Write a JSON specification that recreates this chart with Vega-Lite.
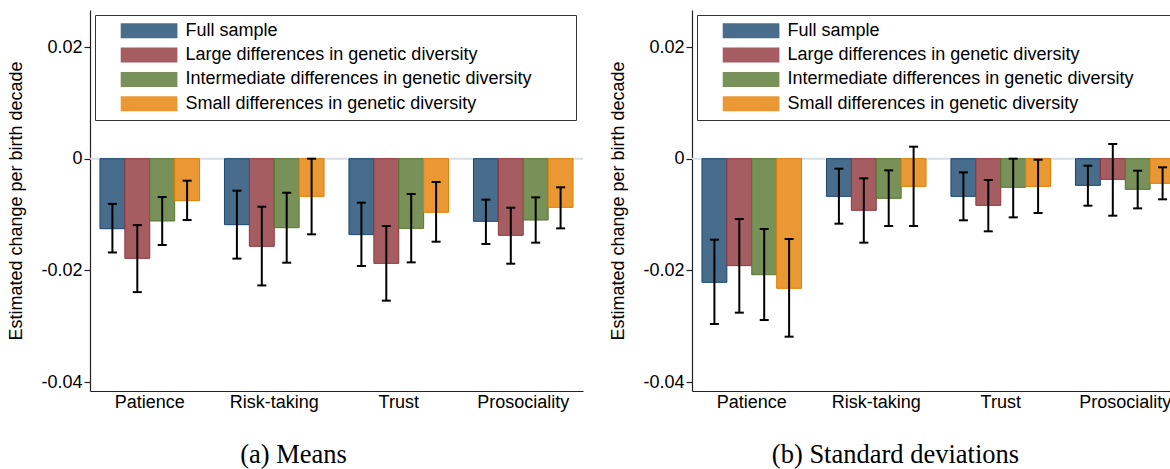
{
  "$schema": "https://vega.github.io/schema/vega-lite/v6.json",
  "padding": {"left": 7, "top": 10, "right": 0, "bottom": 0},
  "spacing": 25,
  "data": {
    "values": [
      {"panel": "Means", "trait": "Patience", "group": "Full sample", "est": -0.01254, "lo": -0.0168, "hi": -0.0081},
      {"panel": "Means", "trait": "Patience", "group": "Large differences in genetic diversity", "est": -0.01785, "lo": -0.0239, "hi": -0.0119},
      {"panel": "Means", "trait": "Patience", "group": "Intermediate differences in genetic diversity", "est": -0.01116, "lo": -0.01546, "hi": -0.00687},
      {"panel": "Means", "trait": "Patience", "group": "Small differences in genetic diversity", "est": -0.00752, "lo": -0.01099, "hi": -0.00394},
      {"panel": "Means", "trait": "Risk-taking", "group": "Full sample", "est": -0.01182, "lo": -0.0179, "hi": -0.00573},
      {"panel": "Means", "trait": "Risk-taking", "group": "Large differences in genetic diversity", "est": -0.0157, "lo": -0.0227, "hi": -0.0086},
      {"panel": "Means", "trait": "Risk-taking", "group": "Intermediate differences in genetic diversity", "est": -0.01236, "lo": -0.01863, "hi": -0.0061},
      {"panel": "Means", "trait": "Risk-taking", "group": "Small differences in genetic diversity", "est": -0.00675, "lo": -0.01355, "hi": 0.0},
      {"panel": "Means", "trait": "Trust", "group": "Full sample", "est": -0.0136, "lo": -0.01922, "hi": -0.00788},
      {"panel": "Means", "trait": "Trust", "group": "Large differences in genetic diversity", "est": -0.01875, "lo": -0.02543, "hi": -0.01206},
      {"panel": "Means", "trait": "Trust", "group": "Intermediate differences in genetic diversity", "est": -0.01248, "lo": -0.01857, "hi": -0.00633},
      {"panel": "Means", "trait": "Trust", "group": "Small differences in genetic diversity", "est": -0.00961, "lo": -0.01487, "hi": -0.00418},
      {"panel": "Means", "trait": "Prosociality", "group": "Full sample", "est": -0.01122, "lo": -0.01528, "hi": -0.00734},
      {"panel": "Means", "trait": "Prosociality", "group": "Large differences in genetic diversity", "est": -0.01373, "lo": -0.01881, "hi": -0.00878},
      {"panel": "Means", "trait": "Prosociality", "group": "Intermediate differences in genetic diversity", "est": -0.01099, "lo": -0.01504, "hi": -0.00693},
      {"panel": "Means", "trait": "Prosociality", "group": "Small differences in genetic diversity", "est": -0.00872, "lo": -0.01248, "hi": -0.00513},
      {"panel": "SD", "trait": "Patience", "group": "Full sample", "est": -0.02215, "lo": -0.02961, "hi": -0.01451},
      {"panel": "SD", "trait": "Patience", "group": "Large differences in genetic diversity", "est": -0.01916, "lo": -0.02758, "hi": -0.01081},
      {"panel": "SD", "trait": "Patience", "group": "Intermediate differences in genetic diversity", "est": -0.02078, "lo": -0.0289, "hi": -0.0126},
      {"panel": "SD", "trait": "Patience", "group": "Small differences in genetic diversity", "est": -0.02322, "lo": -0.03188, "hi": -0.01439},
      {"panel": "SD", "trait": "Risk-taking", "group": "Full sample", "est": -0.00675, "lo": -0.01164, "hi": -0.00179},
      {"panel": "SD", "trait": "Risk-taking", "group": "Large differences in genetic diversity", "est": -0.00925, "lo": -0.01504, "hi": -0.00352},
      {"panel": "SD", "trait": "Risk-taking", "group": "Intermediate differences in genetic diversity", "est": -0.0071, "lo": -0.01206, "hi": -0.00209},
      {"panel": "SD", "trait": "Risk-taking", "group": "Small differences in genetic diversity", "est": -0.00496, "lo": -0.01206, "hi": 0.00215},
      {"panel": "SD", "trait": "Trust", "group": "Full sample", "est": -0.00675, "lo": -0.01104, "hi": -0.00245},
      {"panel": "SD", "trait": "Trust", "group": "Large differences in genetic diversity", "est": -0.00836, "lo": -0.01301, "hi": -0.00382},
      {"panel": "SD", "trait": "Trust", "group": "Intermediate differences in genetic diversity", "est": -0.00513, "lo": -0.01051, "hi": 0.0},
      {"panel": "SD", "trait": "Trust", "group": "Small differences in genetic diversity", "est": -0.00496, "lo": -0.00973, "hi": -0.00018},
      {"panel": "SD", "trait": "Prosociality", "group": "Full sample", "est": -0.00478, "lo": -0.00842, "hi": -0.00125},
      {"panel": "SD", "trait": "Prosociality", "group": "Large differences in genetic diversity", "est": -0.0037, "lo": -0.01021, "hi": 0.00263},
      {"panel": "SD", "trait": "Prosociality", "group": "Intermediate differences in genetic diversity", "est": -0.00549, "lo": -0.0089, "hi": -0.00215},
      {"panel": "SD", "trait": "Prosociality", "group": "Small differences in genetic diversity", "est": -0.00442, "lo": -0.00728, "hi": -0.00155}
    ]
  },
  "hconcat": [
    {
      "width": 493,
      "height": 381,
      "title": {"text": "(a) Means", "orient": "bottom", "anchor": "middle", "frame": "group", "dx": -43, "offset": 31},
      "transform": [{"filter": "datum.panel === 'Means'"}],
      "layer": [
        {
          "transform": [{"filter": "datum.trait === 'Patience' && datum.group === 'Full sample'"}],
          "mark": {"type": "rule", "color": "#d6dfe6", "strokeWidth": 2},
          "encoding": {"y": {"datum": 0, "scale": {"domain": [-0.04161, 0.02663], "nice": false, "zero": false}}}
        },
        {
          "encoding": {
            "x": {"field": "trait", "type": "nominal", "sort": ["Patience", "Risk-taking", "Trust", "Prosociality"], "scale": {"paddingInner": 0.2, "paddingOuter": 0.08}, "axis": {"title": null, "ticks": false, "labelAngle": 0, "labelPadding": 2}},
            "xOffset": {"field": "group", "type": "nominal", "sort": ["Full sample", "Large differences in genetic diversity", "Intermediate differences in genetic diversity", "Small differences in genetic diversity"], "scale": {"paddingInner": 0, "paddingOuter": 0}}
          },
          "layer": [
            {
              "mark": {"type": "bar", "strokeWidth": 1},
              "encoding": {
                "y": {"field": "est", "type": "quantitative", "title": "Estimated change per birth decade", "scale": {"domain": [-0.04161, 0.02663], "nice": false, "zero": false}, "axis": {"values": [-0.04, -0.02, 0, 0.02], "labelExpr": "datum.value == 0 ? '0' : (datum.value < 0 ? '-' : '') + format(abs(datum.value), '.2f')"}},
                "color": {"field": "group", "type": "nominal", "sort": ["Full sample", "Large differences in genetic diversity", "Intermediate differences in genetic diversity", "Small differences in genetic diversity"], "scale": {"range": ["#486c8c", "#a65d62", "#779159", "#e99833"]}, "legend": {"title": "\u00a0", "titleOrient": "right", "titlePadding": 37, "titleFontSize": 1}},
                "stroke": {"field": "group", "type": "nominal", "sort": ["Full sample", "Large differences in genetic diversity", "Intermediate differences in genetic diversity", "Small differences in genetic diversity"], "scale": {"range": ["#1a476f", "#90353b", "#55752f", "#e37e00"]}, "legend": null}
              }
            },
            {
              "mark": {"type": "rule", "strokeWidth": 2, "color": "#000000"},
              "encoding": {
                "y": {"field": "lo", "type": "quantitative", "title": "Estimated change per birth decade", "scale": {"domain": [-0.04161, 0.02663], "nice": false, "zero": false}},
                "y2": {"field": "hi"}
              }
            },
            {
              "mark": {"type": "tick", "thickness": 2, "size": 9, "color": "#000000", "opacity": 1},
              "encoding": {"y": {"field": "lo", "type": "quantitative", "title": "Estimated change per birth decade", "scale": {"domain": [-0.04161, 0.02663], "nice": false, "zero": false}}}
            },
            {
              "mark": {"type": "tick", "thickness": 2, "size": 9, "color": "#000000", "opacity": 1},
              "encoding": {"y": {"field": "hi", "type": "quantitative", "title": "Estimated change per birth decade", "scale": {"domain": [-0.04161, 0.02663], "nice": false, "zero": false}}}
            }
          ]
        }
      ]
    },
    {
      "width": 493,
      "height": 381,
      "title": {"text": "(b) Standard deviations", "orient": "bottom", "anchor": "middle", "frame": "group", "dx": -43, "offset": 31},
      "transform": [{"filter": "datum.panel === 'SD'"}],
      "layer": [
        {
          "transform": [{"filter": "datum.trait === 'Patience' && datum.group === 'Full sample'"}],
          "mark": {"type": "rule", "color": "#d6dfe6", "strokeWidth": 2},
          "encoding": {"y": {"datum": 0, "scale": {"domain": [-0.04161, 0.02663], "nice": false, "zero": false}}}
        },
        {
          "encoding": {
            "x": {"field": "trait", "type": "nominal", "sort": ["Patience", "Risk-taking", "Trust", "Prosociality"], "scale": {"paddingInner": 0.2, "paddingOuter": 0.08}, "axis": {"title": null, "ticks": false, "labelAngle": 0, "labelPadding": 2}},
            "xOffset": {"field": "group", "type": "nominal", "sort": ["Full sample", "Large differences in genetic diversity", "Intermediate differences in genetic diversity", "Small differences in genetic diversity"], "scale": {"paddingInner": 0, "paddingOuter": 0}}
          },
          "layer": [
            {
              "mark": {"type": "bar", "strokeWidth": 1},
              "encoding": {
                "y": {"field": "est", "type": "quantitative", "title": "Estimated change per birth decade", "scale": {"domain": [-0.04161, 0.02663], "nice": false, "zero": false}, "axis": {"values": [-0.04, -0.02, 0, 0.02], "labelExpr": "datum.value == 0 ? '0' : (datum.value < 0 ? '-' : '') + format(abs(datum.value), '.2f')"}},
                "color": {"field": "group", "type": "nominal", "sort": ["Full sample", "Large differences in genetic diversity", "Intermediate differences in genetic diversity", "Small differences in genetic diversity"], "scale": {"range": ["#486c8c", "#a65d62", "#779159", "#e99833"]}, "legend": {"title": "\u00a0", "titleOrient": "right", "titlePadding": 37, "titleFontSize": 1}},
                "stroke": {"field": "group", "type": "nominal", "sort": ["Full sample", "Large differences in genetic diversity", "Intermediate differences in genetic diversity", "Small differences in genetic diversity"], "scale": {"range": ["#1a476f", "#90353b", "#55752f", "#e37e00"]}, "legend": null}
              }
            },
            {
              "mark": {"type": "rule", "strokeWidth": 2, "color": "#000000"},
              "encoding": {
                "y": {"field": "lo", "type": "quantitative", "title": "Estimated change per birth decade", "scale": {"domain": [-0.04161, 0.02663], "nice": false, "zero": false}},
                "y2": {"field": "hi"}
              }
            },
            {
              "mark": {"type": "tick", "thickness": 2, "size": 9, "color": "#000000", "opacity": 1},
              "encoding": {"y": {"field": "lo", "type": "quantitative", "title": "Estimated change per birth decade", "scale": {"domain": [-0.04161, 0.02663], "nice": false, "zero": false}}}
            },
            {
              "mark": {"type": "tick", "thickness": 2, "size": 9, "color": "#000000", "opacity": 1},
              "encoding": {"y": {"field": "hi", "type": "quantitative", "title": "Estimated change per birth decade", "scale": {"domain": [-0.04161, 0.02663], "nice": false, "zero": false}}}
            }
          ]
        }
      ]
    }
  ],
  "resolve": {"legend": {"color": "independent"}},
  "config": {
    "view": {"stroke": null},
    "font": "Liberation Sans",
    "title": {"font": "Liberation Serif", "fontSize": 26.5, "fontWeight": "normal", "color": "#000000"},
    "axis": {
      "grid": false,
      "domainColor": "#222222",
      "domainWidth": 1.2,
      "tickColor": "#222222",
      "tickWidth": 1.2,
      "labelColor": "#000000",
      "titleColor": "#000000",
      "labelFont": "Liberation Sans",
      "titleFont": "Liberation Sans",
      "labelFontSize": 18,
      "titleFontSize": 18,
      "titleFontWeight": "normal"
    },
    "axisY": {
      "tickSize": 6,
      "labelPadding": 2,
      "titleX": -69,
      "titleBaseline": "alphabetic"
    },
    "legend": {
      "orient": "top-left",
      "offset": 5,
      "direction": "vertical",
      "columns": 1,
      "padding": 6.8,
      "strokeColor": "#333333",
      "fillColor": "#ffffff",
      "symbolType": "M-5.67,-1.5H5.67V1.5H-5.67Z",
      "symbolSize": 100,
      "symbolStrokeWidth": 1,
      "symbolOffset": 38.25,
      "labelOffset": 27.5,
      "labelFont": "Liberation Sans",
      "labelFontSize": 18,
      "labelColor": "#000000",
      "labelLimit": 1000,
      "rowPadding": 6.3,
      "symbolOpacity": 1
    }
  }
}
